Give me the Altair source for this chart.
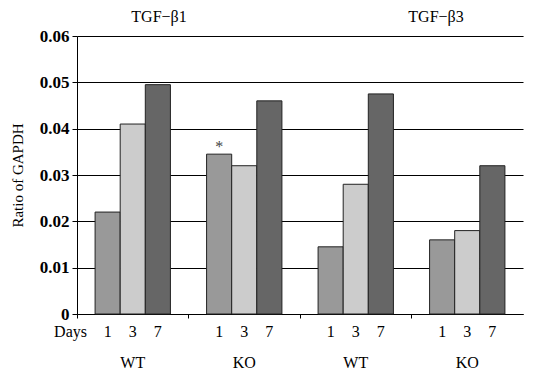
import altair as alt
import pandas as pd

groups = ["WT_b1", "KO_b1", "WT_b3", "KO_b3"]
group_labels = ["WT", "KO", "WT", "KO"]
days = ["1", "3", "7"]
values = {
    "WT_b1": [0.022, 0.041, 0.0495],
    "KO_b1": [0.0345, 0.032, 0.046],
    "WT_b3": [0.0145, 0.028, 0.0475],
    "KO_b3": [0.016, 0.018, 0.032],
}
day_colors = ["#999999", "#cccccc", "#666666"]
y_ticks = [0, 0.01, 0.02, 0.03, 0.04, 0.05, 0.06]
titles = ["TGF\u2212\u03b21", "TGF\u2212\u03b23"]
star_group, star_day = "KO_b1", "1"

rows = []
for g in groups:
    for d, v in zip(days, values[g]):
        rows.append({"group": g, "day": d, "value": v})
df = pd.DataFrame(rows)
gdf = pd.DataFrame({"group": groups, "label": group_labels})
star_df = df[(df.group == star_group) & (df.day == star_day)].assign(t="*")

FONT = "Times New Roman"
W, H = 447, 278

xenc = alt.X("group:N", sort=groups,
             scale=alt.Scale(paddingInner=0, paddingOuter=0, range=[0, 446]),
             axis=alt.Axis(labels=False, title=None, bandPosition=0, tickSize=4,
                           domainColor="black", tickColor="black", grid=False))
xoff = alt.XOffset("day:N", sort=days,
                   scale=alt.Scale(paddingOuter=0.72, paddingInner=0))

bars = alt.Chart(df).mark_bar(stroke="#222222", strokeWidth=1).encode(
    x=xenc,
    xOffset=xoff,
    y=alt.Y("value:Q", scale=alt.Scale(domain=[0, 0.06], nice=False),
            axis=alt.Axis(values=y_ticks, title="Ratio of GAPDH",
                          labelExpr="datum.value == 0 ? '0' : format(datum.value, '.2f')",
                          labelFont=FONT, labelFontSize=17, labelFontWeight="bold",
                          labelColor="black", labelPadding=3,
                          tickSize=5, tickColor="black", domainColor="black",
                          gridColor="black", gridOpacity=1, gridWidth=1,
                          titleFont=FONT, titleFontSize=15, titleFontWeight="normal",
                          titleColor="black", titleX=-60, titleY=H / 2,
                          titleBaseline="middle")),
    color=alt.Color("day:N", sort=days,
                    scale=alt.Scale(domain=days, range=day_colors), legend=None),
)

day_text = alt.Chart(df).mark_text(font=FONT, fontSize=16, color="black",
                                   baseline="middle").encode(
    x=alt.X("group:N", sort=groups),
    xOffset=alt.XOffset("day:N", sort=days),
    y=alt.value(H + 18),
    text="day:N",
)

days_word = alt.Chart(pd.DataFrame({"t": ["Days"]})).mark_text(
    font=FONT, fontSize=16, color="black", align="right", baseline="middle").encode(
    x=alt.value(10), y=alt.value(H + 18), text="t:N")

group_text = alt.Chart(gdf).mark_text(font=FONT, fontSize=16, color="black",
                                      baseline="middle").encode(
    x=alt.X("group:N", sort=groups),
    y=alt.value(H + 49),
    text="label:N",
)

title_df = pd.DataFrame({"t": titles, "px": [82, 359]})
title_text = alt.Chart(title_df).mark_text(font=FONT, fontSize=16, color="black",
                                           baseline="middle").encode(
    x=alt.X("px:Q", scale=None), y=alt.value(-19), text="t:N")

star = alt.Chart(star_df).mark_text(font=FONT, fontSize=16, fill="#444444",
                                    baseline="middle", dy=-7).encode(
    x=alt.X("group:N", sort=groups),
    xOffset=alt.XOffset("day:N", sort=days),
    y=alt.Y("value:Q"),
    text="t:N",
)

chart = alt.layer(bars, day_text, days_word, group_text, title_text, star).properties(
    width=W, height=H,
    autosize=alt.AutoSizeParams(type="none"),
    padding={"left": 69, "top": 28, "right": 0, "bottom": 59},
).configure_view(stroke=None).configure(background="white")

chart.save("out.html", embed_options={"renderer": "svg", "actions": False})
